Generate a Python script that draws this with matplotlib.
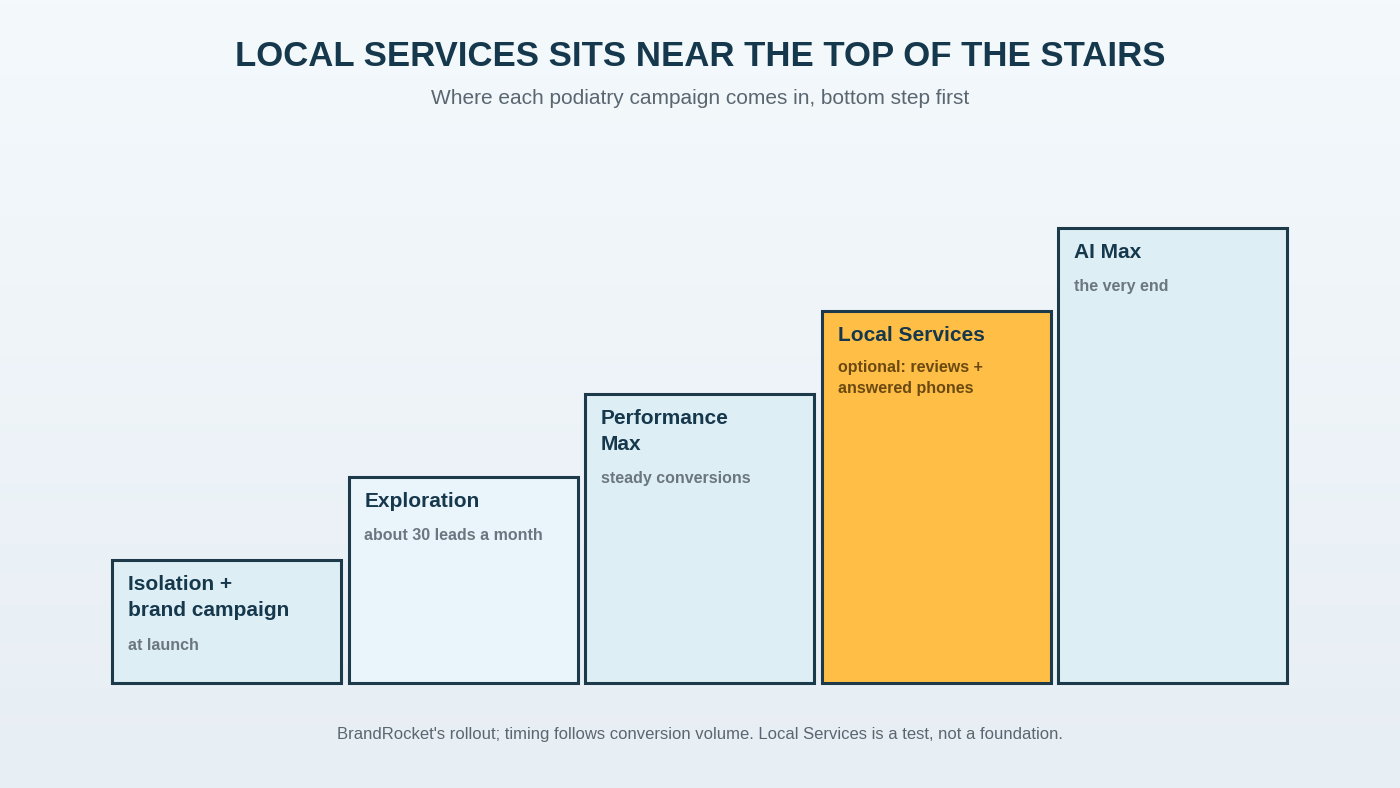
import matplotlib
matplotlib.use("Agg")
import matplotlib.pyplot as plt
import numpy as np
from matplotlib.colors import LinearSegmentedColormap

steps = ["Isolation +\nbrand campaign", "Exploration", "Performance\nMax", "Local Services", "AI Max"]
notes = ["at launch", "about 30 leads a month", "steady conversions", "optional: reviews +\nanswered phones", "the very end"]
heights = [123, 206, 289, 372, 455]
fills = ["#deeef5", "#eaf5fb", "#deeef5", "#ffbe45", "#deeef5"]
note_colors = ["#6b7680", "#6b7680", "#6b7680", "#6b4a12", "#6b7680"]

W, H = 1400, 788
fig = plt.figure(figsize=(W/100, H/100), dpi=100)
bg = fig.add_axes([0, 0, 1, 1])
grad = np.linspace(0, 1, 256).reshape(-1, 1)
cm = LinearSegmentedColormap.from_list("bg", ["#f4f9fc", "#e7eef4"])
bg.imshow(grad, aspect="auto", cmap=cm, extent=[0, 1, 0, 1])
bg.axis("off")

n = len(steps)
pitch = 236.5
left = 112 + 114.5 - pitch/2
right = left + n*pitch
bottom, top = 683, 228
ax = fig.add_axes([left/W, 1-bottom/H, (right-left)/W, (bottom-top)/H])
ax.patch.set_alpha(0)
x = np.arange(n)
bw = 229/pitch
bars = ax.bar(x, heights, width=bw, color=fills, edgecolor="#1c3a4a", linewidth=2.2, align="center")
for b in bars:
    b.set_clip_on(False)
ax.set_xlim(-0.5, n-0.5)
ax.set_ylim(0, 455)
ax.axis("off")

px = 0.72
for i in range(n):
    lines = steps[i].count("\n") + 1
    xl = i - bw/2
    ax.annotate(steps[i], (xl, heights[i]), xytext=(16*px, -15*px), textcoords="offset points",
                ha="left", va="top", fontsize=15, fontweight="bold", color="#16384d",
                linespacing=1.45, family="Liberation Sans")
    multi = "\n" in notes[i]
    off = 58 + 27*(lines-1)
    ax.annotate(notes[i], (xl, heights[i]), xytext=(16*px, -(off-9 if multi else off)*px), textcoords="offset points",
                ha="left", va="top" if multi else "center", fontsize=11.5, fontweight="bold",
                color=note_colors[i], linespacing=1.5, family="Liberation Sans")

fig.text(0.5, 1-56/H, "LOCAL SERVICES SITS NEAR THE TOP OF THE STAIRS", ha="center", va="center",
         fontsize=25, fontweight="bold", color="#16384d", family="Liberation Sans")
fig.text(0.5, 1-98/H, "Where each podiatry campaign comes in, bottom step first", ha="center", va="center",
         fontsize=15, color="#5a6670", family="Liberation Sans")
fig.text(0.5, 1-735/H, "BrandRocket's rollout; timing follows conversion volume. Local Services is a test, not a foundation.",
         ha="center", va="center", fontsize=12, color="#5a6670", family="Liberation Sans")

fig.savefig("out.png", dpi=100)
